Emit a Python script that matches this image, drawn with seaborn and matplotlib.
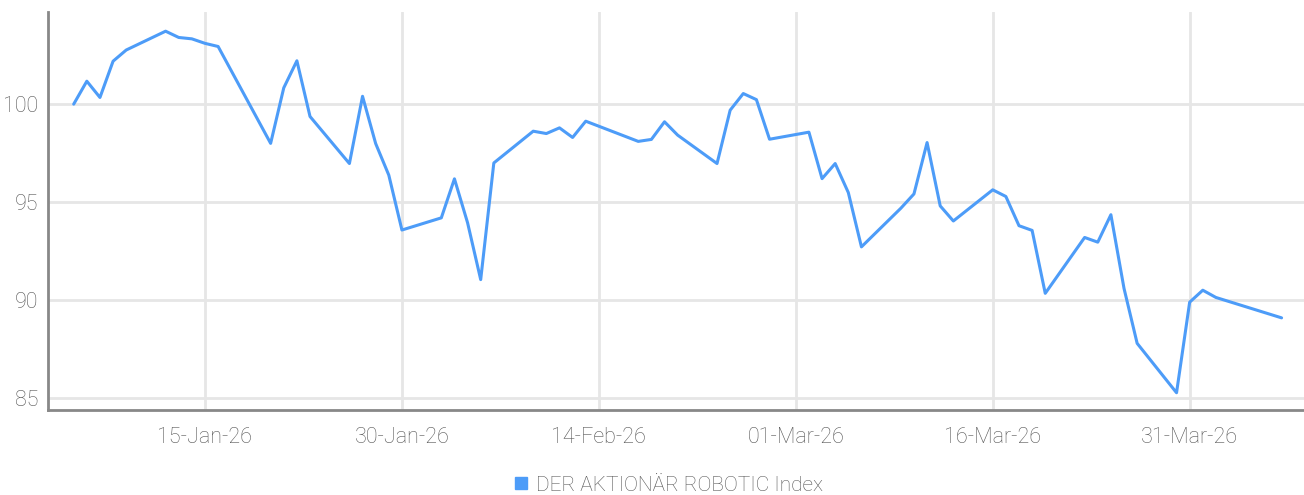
import pandas as pd
import matplotlib
matplotlib.use("Agg")
import matplotlib.pyplot as plt
import matplotlib.dates as mdates
import seaborn as sns

dates = [
    "2026-01-05", "2026-01-06", "2026-01-07", "2026-01-08", "2026-01-09",
    "2026-01-12", "2026-01-13", "2026-01-14", "2026-01-15", "2026-01-16",
    "2026-01-20", "2026-01-21", "2026-01-22", "2026-01-23",
    "2026-01-26", "2026-01-27", "2026-01-28", "2026-01-29", "2026-01-30",
    "2026-02-02", "2026-02-03", "2026-02-04", "2026-02-05", "2026-02-06",
    "2026-02-09", "2026-02-10", "2026-02-11", "2026-02-12", "2026-02-13",
    "2026-02-17", "2026-02-18", "2026-02-19", "2026-02-20",
    "2026-02-23", "2026-02-24", "2026-02-25", "2026-02-26", "2026-02-27",
    "2026-03-02", "2026-03-03", "2026-03-04", "2026-03-05", "2026-03-06",
    "2026-03-09", "2026-03-10", "2026-03-11", "2026-03-12", "2026-03-13",
    "2026-03-16", "2026-03-17", "2026-03-18", "2026-03-19", "2026-03-20",
    "2026-03-23", "2026-03-24", "2026-03-25", "2026-03-26", "2026-03-27",
    "2026-03-30", "2026-03-31", "2026-04-01", "2026-04-02",
    "2026-04-07",
]
values = [
    100.0, 101.17, 100.34, 102.19, 102.76,
    103.72, 103.4, 103.33, 103.1, 102.94,
    98.0, 100.83, 102.21, 99.37,
    96.97, 100.4, 97.99, 96.38, 93.58,
    94.2, 96.19, 93.95, 91.05, 97.0,
    98.62, 98.5, 98.79, 98.3, 99.13,
    98.1, 98.2, 99.1, 98.42,
    96.97, 99.69, 100.54, 100.23, 98.21,
    98.57, 96.2, 96.97, 95.49, 92.72,
    94.69, 95.42, 98.04, 94.81, 94.04,
    95.63, 95.29, 93.8, 93.56, 90.35,
    93.2, 92.96, 94.36, 90.6, 87.8,
    85.28, 89.9, 90.51, 90.14,
    89.1,
]
series_name = "DER AKTIONÄR ROBOTIC Index"
x_ticks = ["2026-01-15", "2026-01-30", "2026-02-14", "2026-03-01", "2026-03-16", "2026-03-31"]
y_ticks = [85, 90, 95, 100]

df = pd.DataFrame({"date": pd.to_datetime(dates), "value": values, "series": series_name})

sns.set_style("white")
plt.rcParams["font.family"] = ["Roboto", "DejaVu Sans"]

line_color = "#4d9cf8"
text_color = "#555555"
grid_color = "#e6e6e6"

fig = plt.figure(figsize=(13.04, 4.95), dpi=100)
ax = fig.add_axes([0.0368, 0.1717, 0.9632, 0.8041])

sns.lineplot(data=df, x="date", y="value", hue="series", palette=[line_color],
             linewidth=2.2, ax=ax, legend=False)

ax.set_xlim(pd.Timestamp("2026-01-03 01:00"), pd.Timestamp("2026-04-08 17:00"))
ax.set_ylim(84.4, 104.7)
ax.set_xticks(pd.to_datetime(x_ticks))
ax.xaxis.set_major_formatter(mdates.DateFormatter("%d-%b-%y"))
ax.set_yticks(y_ticks)

ax.grid(True, color=grid_color, linewidth=2)
ax.set_axisbelow(True)
ax.tick_params(length=0, labelsize=15.5, labelcolor=text_color, pad=7)
ax.tick_params(axis="x", pad=12)
for lbl in ax.get_xticklabels() + ax.get_yticklabels():
    lbl.set_fontweight("light")

for side in ["top", "right"]:
    ax.spines[side].set_visible(False)
ax.spines["left"].set_color("#888888")
ax.spines["left"].set_linewidth(2)
ax.spines["bottom"].set_color("#888888")
ax.spines["bottom"].set_linewidth(2)
ax.set_xlabel("")
ax.set_ylabel("")

handle = plt.Line2D([], [], marker="s", linestyle="none", color=line_color, markersize=8)
fig.legend([handle], [series_name], loc="center", bbox_to_anchor=(0.512, 0.02),
           frameon=False, handlelength=0.8, handletextpad=0.3,
           prop={"size": 15, "weight": "light"}, labelcolor=text_color)

fig.savefig("out.png", dpi=100)
